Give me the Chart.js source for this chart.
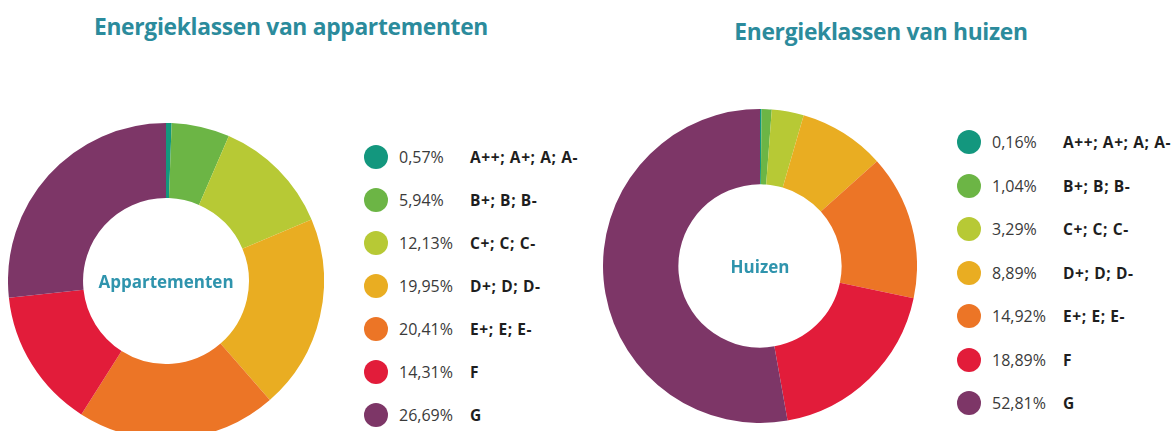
<!DOCTYPE html>
<html>
<head>
<meta charset="utf-8">
<script src="https://cdn.jsdelivr.net/npm/chart.js@4/dist/chart.umd.min.js"></script>
<style>
  html, body { margin: 0; padding: 0; background: #fff; }
  body { width: 1176px; height: 431px; overflow: hidden; position: relative; font-family: "Open Sans", "Lato", sans-serif; }
  .title { position: absolute; font-weight: 700; font-size: 22.8px; color: #2b8b9c; white-space: nowrap; transform: translate(-50%, -50%); letter-spacing: -0.3px; }
  .wrap { position: absolute; }
  .center { position: absolute; left: 50%; top: 50%; transform: translate(-50%, -50%); font-weight: 700; font-size: 17px; color: #2f94ad; white-space: nowrap; }
  .row { position: absolute; height: 26px; display: flex; align-items: center; white-space: nowrap; }
  .dot { width: 24px; height: 24px; border-radius: 50%; position: absolute; left: -12px; }
  .pct { position: absolute; left: 23px; font-size: 16px; color: #3a3a3a; }
  .lab { position: absolute; left: 94px; font-size: 15.5px; font-weight: 700; color: #1e1e1e; letter-spacing: 0.6px; }
</style>
</head>
<body>
<div class="title" style="left:291px; top:26px;">Energieklassen van appartementen</div>
<div class="title" style="left:881px; top:31px;">Energieklassen van huizen</div>

<div class="wrap" style="left:8px; top:123px; width:316px; height:316px;">
  <canvas id="c1" width="316" height="316"></canvas>
  <div class="center">Appartementen</div>
</div>
<div class="wrap" style="left:603px; top:109px; width:314px; height:314px;">
  <canvas id="c2" width="314" height="314"></canvas>
  <div class="center">Huizen</div>
</div>
<div id="leg1"></div>
<div id="leg2"></div>

<script>
const classes = ["A++; A+; A; A-", "B+; B; B-", "C+; C; C-", "D+; D; D-", "E+; E; E-", "F", "G"];
const appartementen = [0.57, 5.94, 12.13, 19.95, 20.41, 14.31, 26.69];
const huizen = [0.16, 1.04, 3.29, 8.89, 14.92, 18.89, 52.81];
const colors = ["#13977e", "#6cb545", "#b7c935", "#e9ad22", "#ec7526", "#e21c3a", "#7d3667"];

function fmt(v) { return v.toFixed(2).replace(".", ",") + "%"; }

function makeChart(id, data, cutout) {
  new Chart(document.getElementById(id), {
    type: "doughnut",
    data: { labels: classes, datasets: [{ data: data, backgroundColor: colors, borderWidth: 0 }] },
    options: {
      responsive: false,
      animation: false,
      cutout: cutout,
      layout: { padding: 0 },
      plugins: { legend: { display: false }, tooltip: { enabled: false } },
      events: []
    }
  });
}
makeChart("c1", appartementen, "52.5%");
makeChart("c2", huizen, "52%");

function makeLegend(id, data, x, y0, step) {
  const el = document.getElementById(id);
  data.forEach((v, i) => {
    const r = document.createElement("div");
    r.className = "row";
    r.style.left = x + "px";
    r.style.top = (y0 + i * step - 13) + "px";
    r.innerHTML = '<span class="dot" style="background:' + colors[i] + '"></span>' +
      '<span class="pct">' + fmt(v) + '</span><span class="lab">' + classes[i] + '</span>';
    el.appendChild(r);
  });
}
makeLegend("leg1", appartementen, 376, 157, 43);
makeLegend("leg2", huizen, 969, 142, 43.5);
</script>
</body>
</html>
